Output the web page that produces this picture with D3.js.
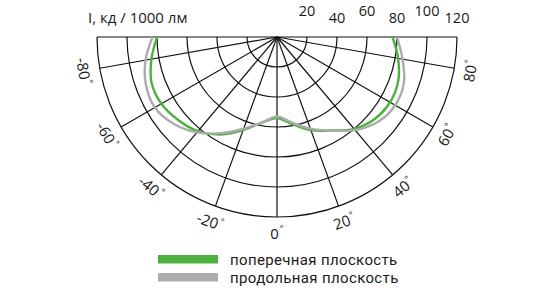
<!DOCTYPE html>
<html>
<head>
<meta charset="UTF-8">
<title>КСС</title>
<style>
body, html {
	padding: 0;
	margin: 0;
	background: #ffffff;
	overflow: hidden;
	font-family: 'Open Sans', sans-serif;
}
text {
	fill: #1a1a1a;
}
.legend text {
	font-family: Roboto, sans-serif;
	letter-spacing: 0.35px;
}
</style>
</head>
<body>
<div id="chart"></div>
<script src="https://cdn.jsdelivr.net/npm/d3@7/dist/d3.min.js"></script>
<script>
// angles in degrees, 0 = straight down
var angles = [-90, -80, -70, -60, -50, -40, -30, -20, -10, 0, 10, 20, 30, 40, 50, 60, 70, 80, 90];
var transverse = [80, 85, 89, 89, 86, 82, 75, 66, 58, 54, 59, 66, 72, 80, 85, 87, 86, 82, 77];
var longitudinal = [83, 89, 93, 94, 90, 83, 74, 65, 58, 53, 58, 65, 72, 81, 88, 91, 90, 85, 80];

var ringValues = [20, 40, 60, 80, 100, 120];
var spokeAngles = [-80, -60, -40, -20, 0, 20, 40, 60, 80];
var angleLabels = [-80, -60, -40, -20, 0, 20, 40, 60, 80];

var unitLabel = "I, кд / 1000 лм";
var seriesNames = ["поперечная плоскость", "продольная плоскость"];
var seriesColors = ["#4cb03e", "#acacac"];

var width = 540;
var height = 300;
var cx = 277;
var cy = 37;

var svg = d3.select("#chart").append("svg")
	.attr("width", width)
	.attr("height", height);

var r = d3.scaleLinear().domain([0, 120]).range([0, 180]);
// lineRadial angle: 0 is up, clockwise. we want 0 down, positive to the right
var theta = d3.scaleLinear().domain([-90, 90]).range([1.5*Math.PI, 0.5*Math.PI]);

function px(a, v) {
	return cx + r(v)*Math.sin(a*Math.PI/180);
}
function py(a, v) {
	return cy + r(v)*Math.cos(a*Math.PI/180);
}

var g = svg.append("g").attr("transform", "translate(" + cx + "," + cy + ")");

// rings
g.selectAll("path.ring").data(ringValues).enter().append("path")
	.attr("class", "ring")
	.attr("d", function(d) {
		var p = d3.path();
		p.moveTo(-r(d), 0);
		p.arc(0, 0, r(d), Math.PI, 0, true);
		return p.toString();
	})
	.attr("fill", "none")
	.attr("stroke", "#111")
	.attr("stroke-width", 1.2);

// spokes
g.selectAll("line.spoke").data(spokeAngles).enter().append("line")
	.attr("class", "spoke")
	.attr("x1", 0).attr("y1", 0)
	.attr("x2", function(d) {return px(d, 120) - cx})
	.attr("y2", function(d) {return py(d, 120) - cy})
	.attr("stroke", "#111")
	.attr("stroke-width", 1.2);

g.append("line")
	.attr("x1", -r(120)).attr("x2", r(120))
	.attr("y1", 0).attr("y2", 0)
	.attr("stroke", "#111")
	.attr("stroke-width", 1.2);

// curves
var line = d3.lineRadial()
	.angle(function(d) {return theta(d[0])})
	.radius(function(d) {return r(d[1])})
	.curve(d3.curveCatmullRom);

var series = [transverse, longitudinal];
g.selectAll("path.curve").data(series).enter().append("path")
	.attr("class", "curve")
	.attr("d", function(d) {return line(angles.map(function(a, i) {return [a, d[i]]}))})
	.attr("fill", "none")
	.attr("stroke", function(d, i) {return seriesColors[i]})
	.attr("stroke-width", 2.4)
	.attr("stroke-linejoin", "round");

// ring value labels along the top
svg.selectAll("text.ringlabel").data(ringValues).enter().append("text")
	.attr("class", "ringlabel")
	.attr("x", function(d) {return cx + r(d)})
	.attr("y", function(d, i) {return i % 2 == 0 ? 16 : 23})
	.attr("text-anchor", "middle")
	.attr("font-size", 14.5)
	.text(function(d) {return d});

svg.append("text")
	.attr("x", 88)
	.attr("y", 23)
	.attr("font-size", 15)
	.text(unitLabel);

// angle labels
var al = svg.selectAll("text.anglelabel").data(angleLabels).enter().append("text")
	.attr("class", "anglelabel")
	.attr("font-size", 15)
	.attr("text-anchor", "middle")
	.attr("transform", function(d) {
		return "translate(" + px(d, 131) + "," + py(d, 131) + ") rotate(" + (-d) + ")";
	});
al.append("tspan").attr("dy", "0.35em").text(function(d) {return d});
al.append("tspan").attr("font-size", 9).attr("dy", "-0.7em").attr("dx", 1).text("°");

// legend
var legend = svg.selectAll("g.legend").data(seriesNames).enter().append("g")
	.attr("class", "legend")
	.attr("transform", function(d, i) {return "translate(158," + (255 + i*18) + ")"});

legend.append("rect")
	.attr("width", 60)
	.attr("height", 8.5)
	.attr("fill", function(d, i) {return seriesColors[i]});

legend.append("text")
	.attr("x", 72)
	.attr("y", 10)
	.attr("font-size", 15)
	.text(function(d) {return d});
</script>
</body>
</html>
